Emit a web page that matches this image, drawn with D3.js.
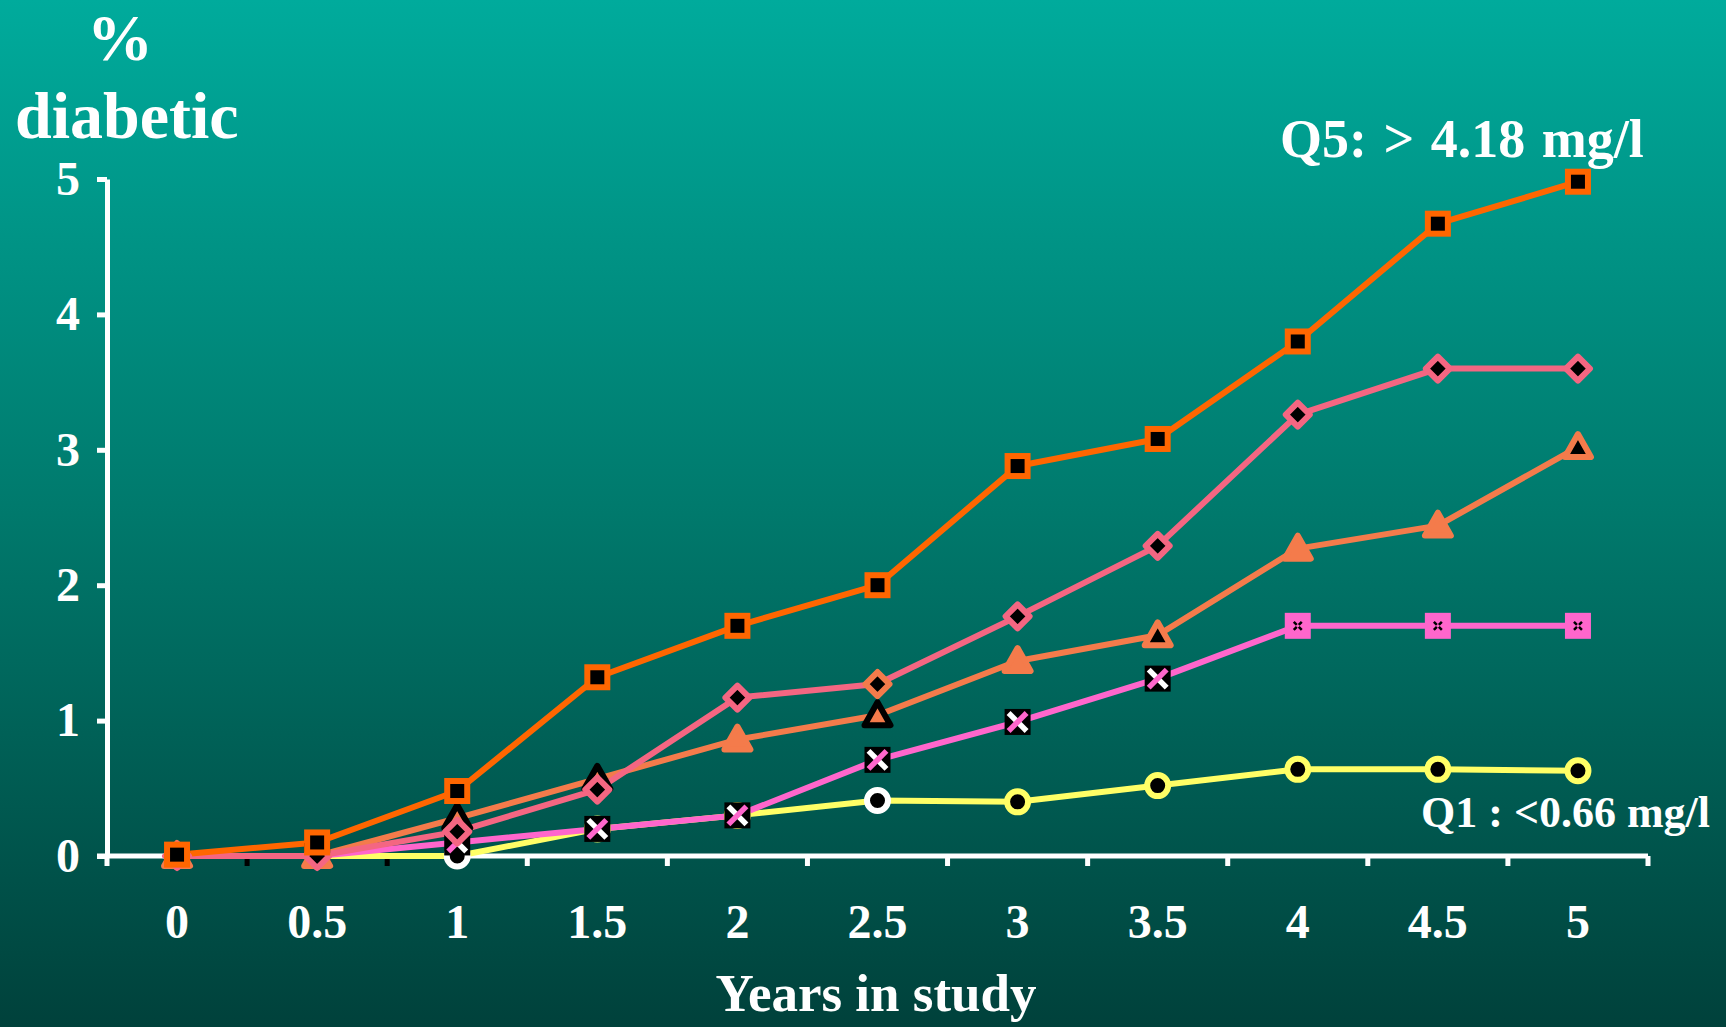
<!DOCTYPE html>
<html>
<head>
<meta charset="utf-8">
<script src="https://cdn.jsdelivr.net/npm/d3@7"></script>
<style>
  html, body { margin: 0; padding: 0; overflow: hidden; background: #00403a; }
  svg text { font-family: "Liberation Serif", "Times New Roman", serif; font-weight: bold; fill: #ffffff; }
</style>
</head>
<body>
<svg id="chart" width="1726" height="1027"></svg>
<script>
// Years of follow-up (categories) and cumulative % diabetic per CRP quintile
const years = ["0", "0.5", "1", "1.5", "2", "2.5", "3", "3.5", "4", "4.5", "5"];
const yTicks = [0, 1, 2, 3, 4, 5];
const q1 = [0, 0, 0, 0.2, 0.3, 0.41, 0.4, 0.52, 0.64, 0.64, 0.63];
const q2 = [0, 0, 0.1, 0.2, 0.3, 0.71, 0.99, 1.31, 1.7, 1.7, 1.7];
const q3 = [0, 0, 0.28, 0.57, 0.86, 1.04, 1.44, 1.63, 2.27, 2.44, 3.02];
const q4 = [0, 0, 0.18, 0.49, 1.17, 1.27, 1.77, 2.29, 3.26, 3.6, 3.6];
const q5 = [0.01, 0.1, 0.48, 1.32, 1.7, 2.0, 2.88, 3.08, 3.8, 4.67, 4.98];
const yTitle = ["%", "diabetic"];
const xTitle = "Years in study";
const labelTop = "Q5: > 4.18 mg/l";
const labelBottom = "Q1 : <0.66 mg/l";

const W = 1726, H = 1027;
const svg = d3.select("#chart");

// Background: vertical teal gradient
const defs = svg.append("defs");
const grad = defs.append("linearGradient").attr("id", "bg").attr("x1", 0).attr("y1", 0).attr("x2", 0).attr("y2", 1);
grad.append("stop").attr("offset", "0%").attr("stop-color", "#00ab9c");
grad.append("stop").attr("offset", "50%").attr("stop-color", "#00796c");
grad.append("stop").attr("offset", "100%").attr("stop-color", "#00413b");
svg.append("rect").attr("width", W).attr("height", H).attr("fill", "url(#bg)");

const x = d3.scaleBand().domain(years).range([107, 1648]).padding(0);
const y = d3.scaleLinear().domain([0, 5]).range([856, 179]);
const cx = i => x(years[i]) + x.bandwidth() / 2;

// Y axis
const yAxis = svg.append("g").attr("transform", "translate(107,0)")
  .call(d3.axisLeft(y).tickValues(yTicks).tickSize(10).tickSizeOuter(0).tickPadding(17).tickFormat(d3.format("d")));
yAxis.select(".domain").attr("stroke", "#fff").attr("stroke-width", 5);
yAxis.selectAll(".tick line").attr("stroke", "#fff").attr("stroke-width", 5);
yAxis.selectAll(".tick text").attr("font-size", 48).attr("fill", "#fff")
  .attr("font-family", "Liberation Serif, Times New Roman, serif").attr("font-weight", "bold");

// X axis labels at category centres
const xAxis = svg.append("g").attr("transform", "translate(0,856)")
  .call(d3.axisBottom(x).tickSize(0).tickPadding(48));
xAxis.select(".domain").remove();
xAxis.selectAll(".tick text").attr("font-size", 48).attr("fill", "#fff")
  .attr("font-family", "Liberation Serif, Times New Roman, serif").attr("font-weight", "bold");

// X axis line with tick marks on category boundaries
const bounds = d3.range(years.length + 1).map(i => x.range()[0] + i * x.step());
svg.append("line").attr("x1", 97).attr("x2", 1648).attr("y1", 856).attr("y2", 856)
  .attr("stroke", "#fff").attr("stroke-width", 5);
svg.selectAll(".xb").data(bounds).join("line")
  .attr("x1", d => d).attr("x2", d => d).attr("y1", 856).attr("y2", 866)
  .attr("stroke", (d, i) => (i === 1 || i === 2) ? "#000" : "#fff").attr("stroke-width", 5);

// Titles
svg.append("text").attr("x", 120).attr("y", 60).attr("text-anchor", "middle").attr("font-size", 66).text(yTitle[0]);
svg.append("text").attr("x", 15).attr("y", 138).attr("font-size", 66).text(yTitle[1]);
svg.append("text").attr("x", 876).attr("y", 1011).attr("text-anchor", "middle").attr("font-size", 53).text(xTitle);
svg.append("text").attr("x", 1280).attr("y", 157).attr("font-size", 54).attr("word-spacing", 3).text(labelTop);
svg.append("text").attr("x", 1421).attr("y", 827).attr("font-size", 44).text(labelBottom);

// Series
const series = [
  { key: "q1", values: q1, color: "#ffff66", marker: "circle" },
  { key: "q2", values: q2, color: "#ff66cc", marker: "cross" },
  { key: "q3", values: q3, color: "#f47b4b", marker: "triangle" },
  { key: "q4", values: q4, color: "#f46682", marker: "diamond" },
  { key: "q5", values: q5, color: "#ff6600", marker: "square" }
];

const line = d3.line().x((d, i) => cx(i)).y(d => y(d));
svg.append("g").selectAll("path").data(series).join("path")
  .attr("d", s => line(s.values))
  .attr("fill", "none").attr("stroke", s => s.color).attr("stroke-width", 6)
  .attr("stroke-linejoin", "round");

function drawMarker(g, s, i) {
  const c = s.color;
  if (s.marker === "circle") {
    const ring = (i === 2 || i === 5) ? "#ffffff" : c;
    g.append("circle").attr("r", 10.5).attr("fill", "#000").attr("stroke", ring).attr("stroke-width", 6);
    g.append("circle").attr("r", 5.5).attr("fill", "#000");
  } else if (s.marker === "cross") {
    if (i >= 8) {
      g.append("rect").attr("x", -13).attr("y", -13).attr("width", 26).attr("height", 26).attr("fill", c);
      g.append("path").attr("d", "M-4,-4L-1,-1M4,-4L1,-1M-4,4L-1,1M4,4L1,1")
        .attr("stroke", "#000").attr("stroke-width", 2.5);
    } else {
      g.append("rect").attr("x", -13).attr("y", -13).attr("width", 26).attr("height", 26).attr("fill", "#000");
      g.append("path").attr("d", "M-9,-9L9,9").attr("stroke", "#fff").attr("stroke-width", 5.5);
      g.append("path").attr("d", "M9,-9L-9,9").attr("stroke", c).attr("stroke-width", 5.5);
    }
  } else if (s.marker === "triangle") {
    const tri = "M0,-13L13,10L-13,10Z";
    if (i === 2 || i === 3 || i === 5) {
      g.append("path").attr("d", tri).attr("fill", c).attr("stroke", "#000").attr("stroke-width", 6).attr("stroke-linejoin", "round");
    } else if (i === 7 || i === 10) {
      g.append("path").attr("d", tri).attr("fill", "#000").attr("stroke", c).attr("stroke-width", 6).attr("stroke-linejoin", "round");
    } else {
      g.append("path").attr("d", tri).attr("fill", c).attr("stroke", c).attr("stroke-width", 6).attr("stroke-linejoin", "round");
    }
  } else if (s.marker === "diamond") {
    g.append("path").attr("d", "M0,-12L12,0L0,12L-12,0Z")
      .attr("fill", "#000").attr("stroke", i === 5 ? "#f47b4b" : c).attr("stroke-width", 6).attr("stroke-linejoin", "round");
  } else {
    g.append("rect").attr("x", -10).attr("y", -10).attr("width", 20).attr("height", 20)
      .attr("fill", "#000").attr("stroke", c).attr("stroke-width", 6);
  }
}

series.forEach(s => {
  const g = svg.append("g").attr("class", "markers-" + s.key);
  s.values.forEach((v, i) => {
    const m = g.append("g").attr("transform", `translate(${cx(i)},${y(v)})`);
    drawMarker(m, s, i);
  });
});
</script>
</body>
</html>
